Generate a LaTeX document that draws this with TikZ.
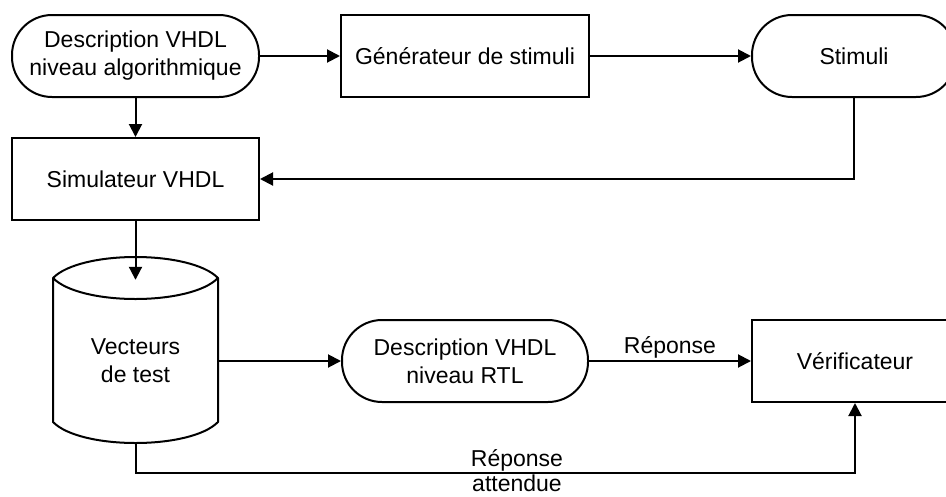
\documentclass[tikz,border=0pt]{standalone}
\usepackage{fontspec}
\setmainfont{Liberation Sans}
\usetikzlibrary{arrows.meta}
\begin{document}
\begin{tikzpicture}[x=1pt,y=1pt,
  every node/.style={font=\fontsize{23}{28}\selectfont, align=center, inner sep=0pt},
  box/.style={draw, line width=2pt, minimum height=82pt},
  term/.style={box, rounded corners=40pt},
  arr/.style={line width=2pt, -{Triangle[length=13pt,width=13pt]}},
  lin/.style={line width=2pt, line join=round}]
\useasboundingbox (0,0) rectangle (946,-496);
\node[term, minimum width=247pt] (alg) at (135.5,-56) {Description VHDL\\niveau algorithmique};
\node[box, minimum width=248pt] (gen) at (465,-56) {Générateur de stimuli};
\node[term, minimum width=204pt] (stim) at (854,-56) {Stimuli};
\node[box, minimum width=247pt] (sim) at (135.5,-179) {Simulateur VHDL};
\node[minimum width=165pt, minimum height=162pt] (vec) at (135.5,-361) {Vecteurs\\de test};
\draw[lin] (53,-278) .. controls (80.5,-250) and (190.5,-250) .. (218,-278)
  .. controls (190.5,-306) and (80.5,-306) .. (53,-278) -- (53,-422)
  .. controls (80.5,-450) and (190.5,-450) .. (218,-422) -- (218,-278);
\node[term, minimum width=246pt] (rtl) at (465,-361) {Description VHDL\\niveau RTL};
\node[box, minimum width=206pt] (ver) at (855,-361) {Vérificateur};
\draw[arr] (alg.east) -- (gen.west);
\draw[arr] (gen.east) -- (stim.west);
\draw[arr] (alg.south) -- (sim.north);
\draw[arr] (stim.south) |- (sim.east);
\draw[arr] (sim.south) -- (vec.north);
\draw[arr] (vec.east) -- (rtl.west);
\draw[arr] (rtl.east) -- (ver.west) node[pos=0.5, anchor=base, yshift=8pt] (rep) {Réponse};
\draw[arr] (vec.south) -- ++(0,-31) coordinate (bl) -| (ver.south);
\node[anchor=base] (lab1) at (517,-466) {Réponse};
\node[anchor=base] (lab2) at (517,-491) {attendue};
\end{tikzpicture}
\end{document}
